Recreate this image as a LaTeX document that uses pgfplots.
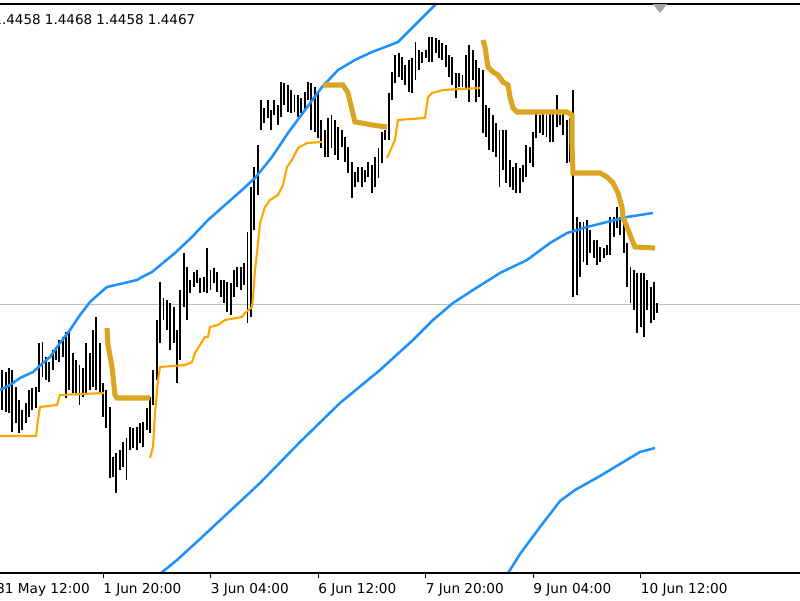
\documentclass[border=0pt]{standalone}
\usepackage{pgfplots}
\pgfplotsset{compat=1.18}
\usepackage{pgfplotstable}
\usepackage{fontspec}
\setmainfont{DejaVu Sans}
\definecolor{mtblue}{HTML}{1E90FF}
\definecolor{mtorange}{HTML}{FFA500}
\definecolor{mtgold}{HTML}{DAA520}
\definecolor{pricegray}{HTML}{C0C0C0}
\pgfplotstableread{
i hi lo
0 1.4401 1.4361
1 1.4399 1.4359
2 1.4403 1.4358
3 1.4401 1.4339
4 1.4384 1.4348
5 1.4371 1.4338
6 1.4361 1.4341
7 1.4368 1.4348
8 1.4381 1.4354
9 1.4383 1.4361
10 1.4384 1.4363
11 1.4428 1.4379
12 1.4429 1.4394
13 1.4414 1.4391
14 1.4409 1.4389
15 1.4421 1.4401
16 1.4424 1.4411
17 1.4431 1.4409
18 1.4434 1.4414
19 1.4439 1.4373
20 1.4441 1.4381
21 1.4418 1.4378
22 1.4411 1.4376
23 1.4406 1.4366
24 1.4403 1.4374
25 1.4428 1.4378
26 1.4418 1.4381
27 1.4441 1.4384
28 1.4454 1.4381
29 1.4428 1.4378
30 1.4388 1.4354
31 1.4381 1.4343
32 1.4364 1.4293
33 1.4314 1.4294
34 1.4318 1.4278
35 1.4321 1.4301
36 1.4329 1.4304
37 1.4333 1.4291
38 1.4344 1.4321
39 1.4343 1.4323
40 1.4344 1.4321
41 1.4348 1.4328
42 1.4349 1.4324
43 1.4363 1.4341
44 1.4374 1.4338
45 1.4401 1.4366
46 1.4451 1.4391
47 1.4489 1.4428
48 1.4473 1.4451
49 1.4471 1.4441
50 1.4468 1.4421
51 1.4464 1.4428
52 1.4441 1.4388
53 1.4481 1.4411
54 1.4518 1.4464
55 1.4504 1.4451
56 1.4491 1.4478
57 1.4499 1.4484
58 1.4501 1.4488
59 1.4493 1.4478
60 1.4494 1.4479
61 1.4523 1.4478
62 1.4501 1.4481
63 1.4503 1.4488
64 1.4499 1.4479
65 1.4491 1.4474
66 1.4491 1.4468
67 1.4489 1.4459
68 1.4488 1.4456
69 1.4501 1.4474
70 1.4504 1.4484
71 1.4504 1.4481
72 1.4508 1.4486
73 1.4539 1.4448
74 1.4584 1.4454
75 1.4604 1.4541
76 1.4626 1.4576
77 1.4671 1.4641
78 1.4663 1.4648
79 1.4671 1.4653
80 1.4661 1.4641
81 1.4671 1.4656
82 1.4666 1.4646
83 1.4689 1.4654
84 1.4688 1.4666
85 1.4686 1.4659
86 1.4681 1.4658
87 1.4676 1.4659
88 1.4676 1.4654
89 1.4673 1.4658
90 1.4679 1.4661
91 1.4689 1.4671
92 1.4688 1.4641
93 1.4684 1.4639
94 1.4678 1.4633
95 1.4651 1.4623
96 1.4641 1.4614
97 1.4653 1.4614
98 1.4656 1.4623
99 1.4651 1.4616
100 1.4644 1.4611
101 1.4641 1.4624
102 1.4634 1.4609
103 1.4624 1.4598
104 1.4609 1.4573
105 1.4599 1.4584
106 1.4604 1.4589
107 1.4604 1.4584
108 1.4601 1.4589
109 1.4609 1.4594
110 1.4606 1.4578
111 1.4614 1.4584
112 1.4623 1.4593
113 1.4639 1.4608
114 1.4641 1.4631
115 1.4678 1.4631
116 1.4699 1.4671
117 1.4716 1.4688
118 1.4718 1.4694
119 1.4714 1.4691
120 1.4706 1.4686
121 1.4711 1.4679
122 1.4713 1.4678
123 1.4729 1.4691
124 1.4721 1.4701
125 1.4719 1.4708
126 1.4721 1.4713
127 1.4734 1.4709
128 1.4734 1.4709
129 1.4733 1.4718
130 1.4731 1.4713
131 1.4728 1.4711
132 1.4726 1.4704
133 1.4716 1.4694
134 1.4714 1.4686
135 1.4698 1.4673
136 1.4698 1.4684
137 1.4696 1.4684
138 1.4716 1.4683
139 1.4726 1.4669
140 1.4721 1.4691
141 1.4711 1.4669
142 1.4703 1.4674
143 1.4701 1.4638
144 1.4666 1.4634
145 1.4663 1.4621
146 1.4656 1.4619
147 1.4648 1.4614
148 1.4641 1.4584
149 1.4641 1.4601
150 1.4641 1.4588
151 1.4611 1.4584
152 1.4604 1.4581
153 1.4608 1.4578
154 1.4603 1.4578
155 1.4606 1.4589
156 1.4626 1.4594
157 1.4624 1.4608
158 1.4639 1.4604
159 1.4658 1.4633
160 1.4656 1.4638
161 1.4658 1.4636
162 1.4656 1.4634
163 1.4658 1.4629
164 1.4658 1.4629
165 1.4676 1.4644
166 1.4656 1.4646
167 1.4658 1.4636
168 1.4651 1.4608
169 1.4653 1.4609
170 1.4681 1.4474
171 1.4554 1.4476
172 1.4549 1.4494
173 1.4549 1.4509
174 1.4551 1.4506
175 1.4541 1.4518
176 1.4531 1.4513
177 1.4531 1.4506
178 1.4524 1.4509
179 1.4523 1.4513
180 1.4526 1.4516
181 1.4554 1.4516
182 1.4554 1.4534
183 1.4564 1.4543
184 1.4554 1.4536
185 1.4551 1.4518
186 1.4528 1.4484
187 1.4504 1.4468
188 1.4501 1.4461
189 1.4498 1.4438
190 1.4498 1.4444
191 1.4498 1.4434
192 1.4491 1.4461
193 1.4484 1.4448
194 1.4489 1.4451
195 1.4468 1.4458
}\bars
\begin{document}
\begin{tikzpicture}[x=1cm,y=1cm]
\path[use as bounding box] (0,-0.675) rectangle (20,14.325);
\begin{axis}[at={(0,0)}, anchor=south west, scale only axis,
  width=20cm, height=14.225cm,
  xmin=-0.655, xmax=237.44, ymin=1.4198, ymax=1.4767,
  axis line style={draw=none},
  ytick=\empty,
  xtick={30,62,94,126,158,190},
  xticklabels={1 Jun 20:00, 3 Jun 04:00, 6 Jun 12:00, 7 Jun 20:00, 9 Jun 04:00, 10 Jun 12:00},
  xtick pos=bottom, tick align=outside, major tick length=0.125cm,
  tick style={black, line width=0.7pt},
  xticklabel style={anchor=north west, inner sep=0pt, font=\fontsize{9.7}{11}\selectfont, yshift=-0.12cm, text=black},
  clip mode=individual,
  scaled y ticks=false,
]
% current price line
\addplot[pricegray, line width=0.7pt, forget plot] coordinates {(-1,1.4467) (240,1.4467)};
% bars (high-low)
\addplot[draw=none, mark=none, forget plot,
  error bars/.cd, y dir=both, y explicit, error mark=none,
  error bar style={draw=black, solid, line width=1.35pt}]
  table[x=i, y expr={(\thisrow{hi}+\thisrow{lo})/2}, y error expr={(\thisrow{hi}-\thisrow{lo})/2}] {\bars};
% upper band
\addplot[mtblue, line width=1.8pt] coordinates {
(-0.65,1.4381) (2.32,1.4386) (5.30,1.4393) (9.17,1.4399) (12.14,1.4408) (14.23,1.4414)
(17.2,1.4428) (20.18,1.4441) (23.15,1.4456) (26.13,1.4469) (29.1,1.4478) (31.19,1.4484)
(35.06,1.4487) (40.12,1.4491) (41.6,1.4494) (44.58,1.4499) (46.37,1.4504) (51.43,1.4518)
(56.49,1.4534) (61.25,1.4551) (66.31,1.4566) (71.37,1.4581) (75.24,1.4593) (80.3,1.4614)
(85.06,1.4638) (90.12,1.4661) (95.18,1.4684) (99.94,1.4701) (105.0,1.4711) (110.06,1.4719)
(114.82,1.4725) (117.8,1.4729) (121.37,1.4741) (124.35,1.4751) (128.81,1.4766) (130.3,1.4771)};
% middle line
\addplot[mtblue, line width=1.8pt] coordinates {
(45.47,1.4193) (52.02,1.4211) (58.87,1.4232) (67.8,1.4260) (76.73,1.4288) (88.63,1.4329)
(100.54,1.4368) (112.44,1.4401) (122.26,1.4431) (128.21,1.4451) (134.17,1.4468) (140.12,1.4481)
(148.15,1.4498) (156.19,1.4511) (163.04,1.4528) (168.1,1.4538) (174.05,1.4544) (180.0,1.4549)
(185.95,1.4554) (193.69,1.4558)};
% lower band
\addplot[mtblue, line width=1.8pt] coordinates {
(149.64,1.4193) (154.11,1.4217) (160.06,1.4244) (166.01,1.4270) (170.48,1.4281) (177.92,1.4295)
(185.36,1.4310) (189.82,1.4319) (194.29,1.4323)};
% orange trailing support
\addplot[mtorange, line width=1.5pt] coordinates {
(-0.65,1.4335) (10.06,1.4335) (10.65,1.4351) (11.25,1.4364) (16.31,1.4366) (17.2,1.4376) (30.3,1.4378)};
\addplot[mtorange, line width=1.5pt] coordinates {
(44.0,1.4313) (44.88,1.4324) (45.48,1.4358) (46.37,1.4391) (46.96,1.4404) (54.4,1.4406)
(56.49,1.4409) (57.38,1.4418) (60.36,1.4434) (61.25,1.4434) (61.85,1.4444) (64.23,1.4446)
(66.31,1.4451) (71.37,1.4454) (72.26,1.4458) (74.35,1.4464) (74.64,1.4474) (75.24,1.4501)
(75.83,1.4518) (76.73,1.4548) (78.21,1.4564) (79.7,1.4571) (82.08,1.4576) (83.57,1.4586)
(84.76,1.4604) (86.25,1.4611) (88.04,1.4623) (90.71,1.4628) (95.18,1.4629)};
\addplot[mtorange, line width=1.5pt] coordinates {
(114.52,1.4613) (116.9,1.4631) (117.8,1.4651) (125.83,1.4653) (126.73,1.4674) (127.92,1.4678)
(131.2,1.4681) (142.2,1.4683)};
% gold trailing resistance
\addplot[mtgold, line width=3.6pt] coordinates {
(31.19,1.4443) (31.49,1.4426) (32.68,1.4404) (33.57,1.4376) (34.17,1.4373) (44.0,1.4373)};
\addplot[mtgold, line width=3.6pt] coordinates {
(95.48,1.4686) (101.43,1.4686) (102.92,1.4678) (104.11,1.4661) (105.0,1.4649) (107.08,1.4648)
(110.06,1.4646) (114.52,1.4644)};
\addplot[mtgold, line width=3.6pt] coordinates {
(143.1,1.4731) (143.69,1.4724) (144.58,1.4704) (146.07,1.4699) (147.56,1.4696) (149.05,1.4689)
(150.54,1.4686) (151.13,1.4674) (152.02,1.4663) (153.21,1.4659) (168.1,1.4659) (169.58,1.4656)
(169.58,1.4628) (169.88,1.4598) (177.92,1.4598) (180.0,1.4594) (181.79,1.4588) (183.27,1.4578)
(184.46,1.4564) (184.76,1.4554) (185.95,1.4544) (187.44,1.4531) (188.33,1.4524) (194.29,1.4523)};
% frame lines
\draw[black, line width=1pt] (rel axis cs:0,0) -- (rel axis cs:1,0);
\draw[black, line width=0.9pt] (rel axis cs:0,1) -- (rel axis cs:1,1);
\end{axis}
\node[anchor=base west, inner sep=0pt, font=\fontsize{9.6}{10}\selectfont] at (-0.17,13.7) {1.4458 1.4468 1.4458 1.4467};
\node[anchor=north west, inner sep=0pt, font=\fontsize{9.7}{11}\selectfont] at (-0.1,-0.245) {31 May 12:00};
\fill[gray!70] (16.325,14.22) -- (16.675,14.22) -- (16.5,14.0) -- cycle;
\end{tikzpicture}
\end{document}
